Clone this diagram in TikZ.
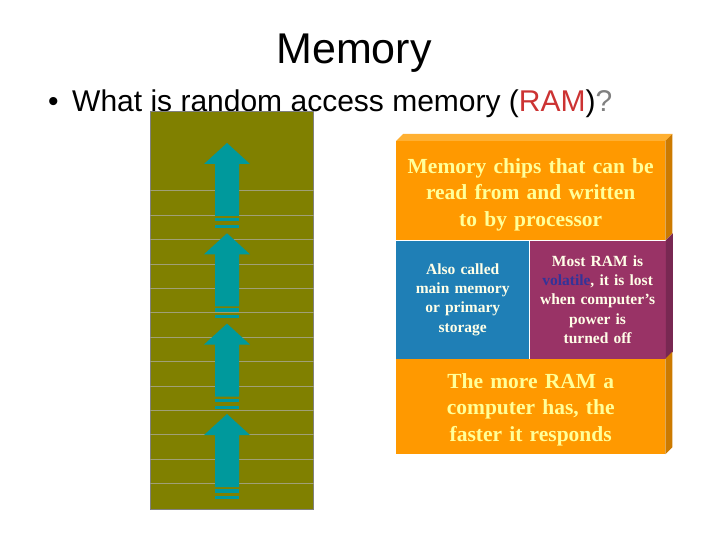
\documentclass[tikz,border=0pt]{standalone}
\usepackage{fontspec}
\setmainfont{Liberation Sans}
\newfontfamily\panelfont{Liberation Serif}
\usetikzlibrary{positioning}
\definecolor{OliveCol}{RGB}{128,128,0}
\definecolor{OliveLine}{RGB}{160,160,118}
\definecolor{TealArrow}{RGB}{0,153,156}
\definecolor{PanelOrange}{RGB}{255,153,0}
\definecolor{PanelOrangeTop}{RGB}{255,176,50}
\definecolor{PanelOrangeSide}{RGB}{204,122,0}
\definecolor{PanelBlue}{RGB}{31,127,182}
\definecolor{PanelPurple}{RGB}{153,51,102}
\definecolor{PanelPurpleSide}{RGB}{120,40,82}
\definecolor{PaleYellow}{RGB}{255,255,153}
\definecolor{Cream}{RGB}{255,255,232}
\definecolor{VolBlue}{RGB}{51,51,153}
\definecolor{RamRed}{RGB}{204,51,51}

\begin{document}
\begin{tikzpicture}[x=1pt, y=-1pt,
    panel/.style={rectangle, inner sep=0pt, align=center, text=PaleYellow, font=\panelfont\bfseries\fontsize{21.5}{26.5}\selectfont},
    subpanel/.style={rectangle, inner sep=0pt, align=center, text=Cream, minimum height=118pt, font=\panelfont\bfseries\fontsize{15.5}{19.2}\selectfont},
    heading/.style={inner sep=0pt, anchor=base, font=\fontsize{43}{50}\selectfont},
    bullet/.style={inner sep=0pt, anchor=base west, font=\fontsize{30}{36}\selectfont}
  ]
  \useasboundingbox[fill=white] (0,0) rectangle (720,540);

  \node (title) [heading] at (354,64) {Memory};
  \node (dot) [bullet] at (48,112) {\textbullet};
  \node (question) [bullet] at (72,112) {What is random access memory (\textcolor{RamRed}{RAM})\textcolor{gray}{?}};

  % memory column
  \node (column) [rectangle, draw=gray, fill=OliveCol, line width=0.6pt, anchor=north west, minimum width=163pt, minimum height=398pt, inner sep=0pt] at (150,111) {};
  \foreach \k in {0,...,12}
    \draw [OliveLine, line width=0.6pt] (column.west |- 0,190.7+24.4*\k) -- (column.east |- 0,190.7+24.4*\k);
  \foreach \t in {143,233.3,323.6,414} {
    \fill [TealArrow] (227,\t) -- (250,\t+21) -- (239,\t+21) -- (239,\t+73) -- (215,\t+73) -- (215,\t+21) -- (204,\t+21) -- cycle;
    \fill [TealArrow] (215,\t+75) rectangle (239,\t+78.5);
    \fill [TealArrow] (215,\t+82) rectangle (239,\t+85);
  }

  % RAM box
  \node (chips) [panel, fill=PanelOrange, anchor=north west, minimum width=269pt, text width=269pt, minimum height=99pt] at (396,141)
    {\rule{0pt}{23pt}Memory chips that can be\\ read from and written\\ to by processor};
  \node (mainmem) [subpanel, fill=PanelBlue, below right=0pt and 0pt of chips.south west, minimum width=133pt, text width=133pt]
    {Also called\\ main memory\\ or primary\\ storage};
  \node (volatile) [subpanel, fill=PanelPurple, right=0pt of mainmem, minimum width=136pt, text width=136pt]
    {Most RAM is\\ \textcolor{VolBlue}{volatile}, it is lost\\ when computer’s\\ power is\\ turned off};
  \node (faster) [panel, fill=PanelOrange, below right=0pt and 0pt of mainmem.south west, minimum width=269pt, text width=269pt, minimum height=95pt]
    {\rule{0pt}{21pt}The more RAM a\\ computer has, the\\ faster it responds};

  \fill [PanelOrangeTop] (chips.north west) -- ++(7,-7) -- ([shift={(7,-7)}]chips.north east) -- (chips.north east) -- cycle;
  \fill [PanelOrangeSide] (chips.north east) -- ++(7,-7) -- ([shift={(7,-7)}]chips.south east) -- (chips.south east) -- cycle;
  \fill [PanelPurpleSide] (volatile.north east) -- ++(7,-7) -- ([shift={(7,-7)}]volatile.south east) -- (volatile.south east) -- cycle;
  \fill [PanelOrangeSide] (faster.north east) -- ++(7,-7) -- ([shift={(7,-7)}]faster.south east) -- (faster.south east) -- cycle;
\end{tikzpicture}
\end{document}
